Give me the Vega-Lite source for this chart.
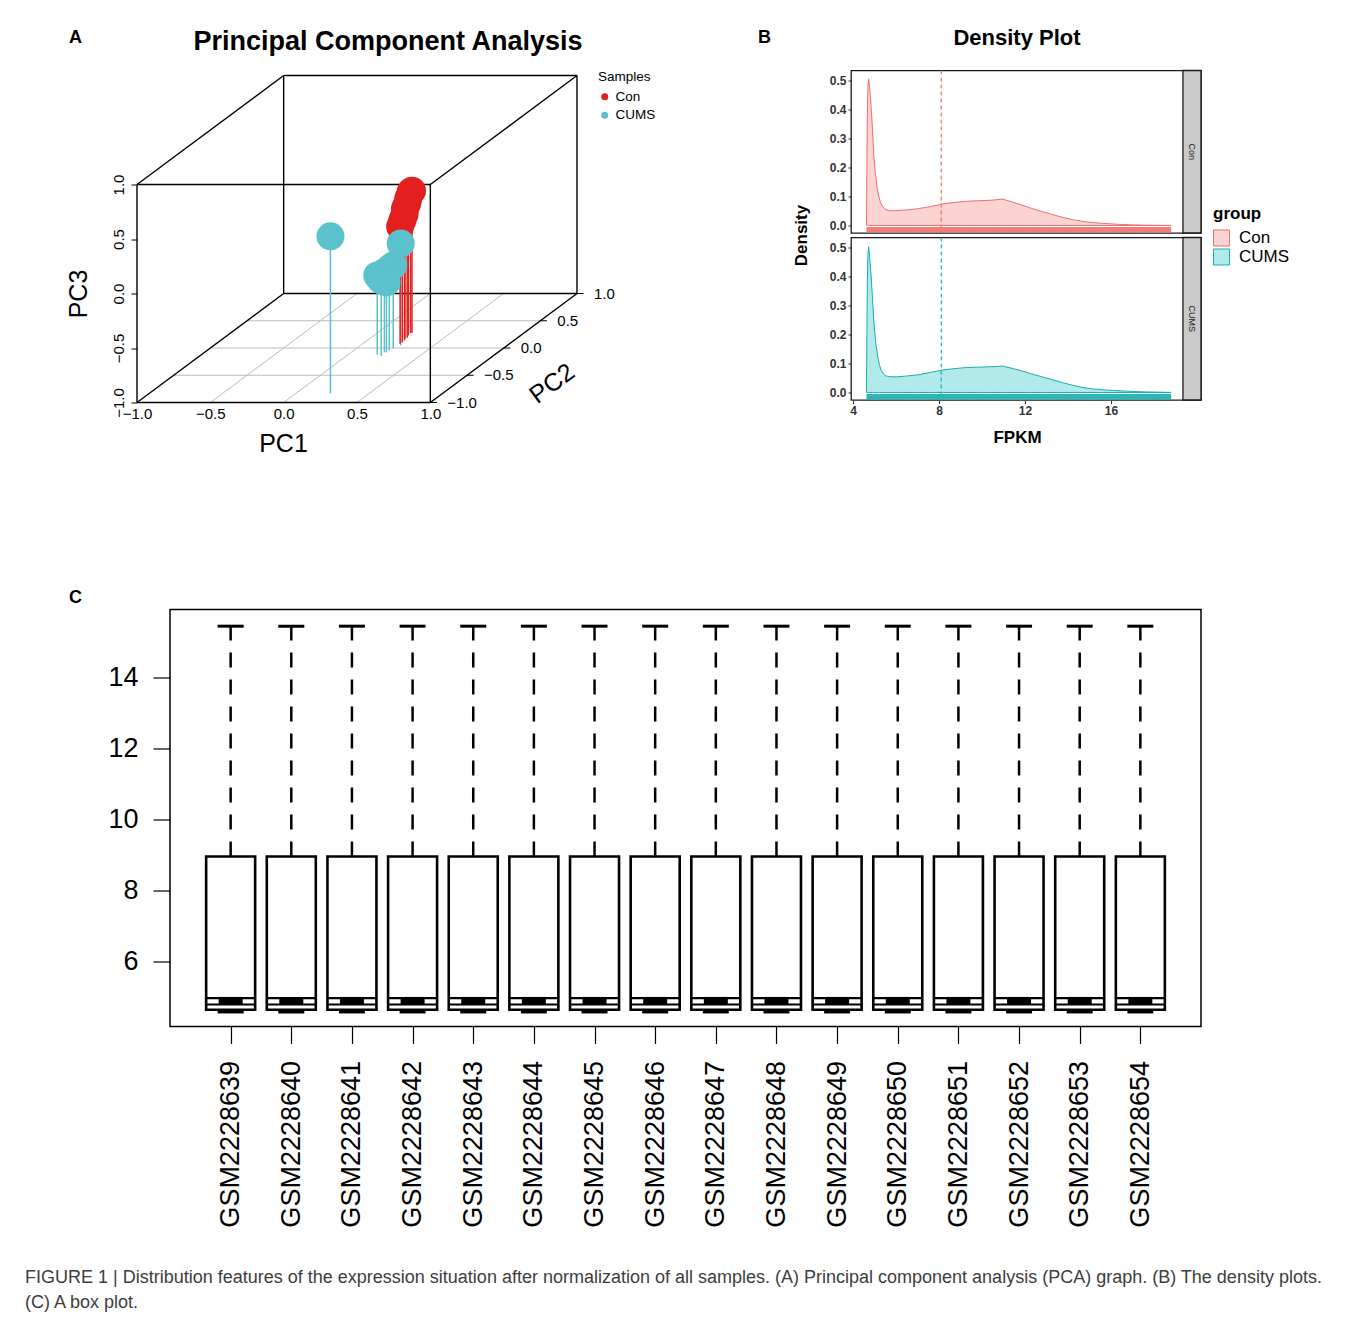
{
  "$schema": "https://vega.github.io/schema/vega-lite/v6.json",
  "padding": {"left": 25, "top": 26.5, "right": 5, "bottom": 5},
  "background": "white",
  "config": {
    "font": "Liberation Sans",
    "view": {"stroke": null},
    "axis": {"grid": false, "domain": false, "labelColor": "#000", "titleColor": "#000", "tickColor": "#000", "labelFlush": false, "labelOverlap": false, "labelBound": false},
    "title": {"color": "#000"}
  },
  "title": {
    "text": ["FIGURE 1 | Distribution features of the expression situation after normalization of all samples. (A) Principal component analysis (PCA) graph. (B) The density plots.", "(C) A box plot."],
    "orient": "bottom", "anchor": "start", "frame": "group", "dx": -112, "offset": 41,
    "fontSize": 18, "fontWeight": "normal", "color": "#3d3d3d", "lineHeight": 25
  },
  "datasets": {
    "pca": [
      {"sample": "Con1", "group": "Con", "pc1": 0.254, "pc2": 0.08, "pc3": 0.074},
      {"sample": "Con2", "group": "Con", "pc1": 0.259, "pc2": 0.10, "pc3": 0.12},
      {"sample": "Con3", "group": "Con", "pc1": 0.254, "pc2": 0.14, "pc3": 0.156},
      {"sample": "Con4", "group": "Con", "pc1": 0.242, "pc2": 0.17, "pc3": 0.193},
      {"sample": "Con5", "group": "Con", "pc1": 0.247, "pc2": 0.19, "pc3": 0.23},
      {"sample": "Con6", "group": "Con", "pc1": 0.235, "pc2": 0.23, "pc3": 0.257},
      {"sample": "Con7", "group": "Con", "pc1": 0.230, "pc2": 0.27, "pc3": 0.294},
      {"sample": "Con8", "group": "Con", "pc1": 0.235, "pc2": 0.28, "pc3": 0.303},
      {"sample": "CUMS1", "group": "CUMS", "pc1": 0.234, "pc2": -0.83, "pc3": 0.44},
      {"sample": "CUMS2", "group": "CUMS", "pc1": 0.275, "pc2": 0.046, "pc3": -0.064},
      {"sample": "CUMS3", "group": "CUMS", "pc1": 0.252, "pc2": -0.01, "pc3": -0.238},
      {"sample": "CUMS4", "group": "CUMS", "pc1": 0.243, "pc2": -0.046, "pc3": -0.248},
      {"sample": "CUMS5", "group": "CUMS", "pc1": 0.227, "pc2": -0.08, "pc3": -0.266},
      {"sample": "CUMS6", "group": "CUMS", "pc1": 0.198, "pc2": -0.12, "pc3": -0.275},
      {"sample": "CUMS7", "group": "CUMS", "pc1": 0.235, "pc2": -0.14, "pc3": -0.31},
      {"sample": "CUMS8", "group": "CUMS", "pc1": 0.241, "pc2": -0.08, "pc3": -0.358}
    ],
    "cube": [
      {"a1": -1, "b1": -1, "c1": -1, "a2": 1, "b2": -1, "c2": -1, "kind": "edge"},
      {"a1": -1, "b1": -1, "c1": 1, "a2": 1, "b2": -1, "c2": 1, "kind": "edge"},
      {"a1": -1, "b1": -1, "c1": -1, "a2": -1, "b2": -1, "c2": 1, "kind": "edge"},
      {"a1": 1, "b1": -1, "c1": -1, "a2": 1, "b2": -1, "c2": 1, "kind": "edge"},
      {"a1": -1, "b1": 1, "c1": -1, "a2": 1, "b2": 1, "c2": -1, "kind": "edge"},
      {"a1": -1, "b1": 1, "c1": 1, "a2": 1, "b2": 1, "c2": 1, "kind": "edge"},
      {"a1": -1, "b1": 1, "c1": -1, "a2": -1, "b2": 1, "c2": 1, "kind": "edge"},
      {"a1": 1, "b1": 1, "c1": -1, "a2": 1, "b2": 1, "c2": 1, "kind": "edge"},
      {"a1": -1, "b1": -1, "c1": -1, "a2": -1, "b2": 1, "c2": -1, "kind": "edge"},
      {"a1": 1, "b1": -1, "c1": -1, "a2": 1, "b2": 1, "c2": -1, "kind": "edge"},
      {"a1": -1, "b1": -1, "c1": 1, "a2": -1, "b2": 1, "c2": 1, "kind": "edge"},
      {"a1": 1, "b1": -1, "c1": 1, "a2": 1, "b2": 1, "c2": 1, "kind": "edge"},
      {"a1": -1, "b1": -0.5, "c1": -1, "a2": 1, "b2": -0.5, "c2": -1, "kind": "grid"},
      {"a1": -1, "b1": 0, "c1": -1, "a2": 1, "b2": 0, "c2": -1, "kind": "grid"},
      {"a1": -1, "b1": 0.5, "c1": -1, "a2": 1, "b2": 0.5, "c2": -1, "kind": "grid"},
      {"a1": -0.5, "b1": -1, "c1": -1, "a2": -0.5, "b2": 1, "c2": -1, "kind": "grid"},
      {"a1": 0, "b1": -1, "c1": -1, "a2": 0, "b2": 1, "c2": -1, "kind": "grid"},
      {"a1": 0.5, "b1": -1, "c1": -1, "a2": 0.5, "b2": 1, "c2": -1, "kind": "grid"}
    ],
    "pc2ticks": [{"pc2": -1}, {"pc2": -0.5}, {"pc2": 0}, {"pc2": 0.5}, {"pc2": 1}],
    "density": [
      {"group": "Con", "kind": "summary", "mean": 8.1, "lo": 4.62, "hi": 18.8},
      {"group": "CUMS", "kind": "summary", "mean": 8.1, "lo": 4.62, "hi": 18.8},
      {"group": "Con", "kind": "curve", "fpkm": 4.62, "density": 0.0},
      {"group": "Con", "kind": "curve", "fpkm": 4.64, "density": 0.2},
      {"group": "Con", "kind": "curve", "fpkm": 4.66, "density": 0.38},
      {"group": "Con", "kind": "curve", "fpkm": 4.69, "density": 0.48},
      {"group": "Con", "kind": "curve", "fpkm": 4.72, "density": 0.505},
      {"group": "Con", "kind": "curve", "fpkm": 4.76, "density": 0.48},
      {"group": "Con", "kind": "curve", "fpkm": 4.83, "density": 0.417},
      {"group": "Con", "kind": "curve", "fpkm": 4.9, "density": 0.33},
      {"group": "Con", "kind": "curve", "fpkm": 4.96, "density": 0.244},
      {"group": "Con", "kind": "curve", "fpkm": 5.04, "density": 0.175},
      {"group": "Con", "kind": "curve", "fpkm": 5.12, "density": 0.129},
      {"group": "Con", "kind": "curve", "fpkm": 5.2, "density": 0.098},
      {"group": "Con", "kind": "curve", "fpkm": 5.28, "density": 0.077},
      {"group": "Con", "kind": "curve", "fpkm": 5.4, "density": 0.062},
      {"group": "Con", "kind": "curve", "fpkm": 5.52, "density": 0.054},
      {"group": "Con", "kind": "curve", "fpkm": 5.7, "density": 0.051},
      {"group": "Con", "kind": "curve", "fpkm": 5.91, "density": 0.051},
      {"group": "Con", "kind": "curve", "fpkm": 6.5, "density": 0.053},
      {"group": "Con", "kind": "curve", "fpkm": 7.03, "density": 0.058},
      {"group": "Con", "kind": "curve", "fpkm": 7.6, "density": 0.065},
      {"group": "Con", "kind": "curve", "fpkm": 8.15, "density": 0.074},
      {"group": "Con", "kind": "curve", "fpkm": 8.7, "density": 0.079},
      {"group": "Con", "kind": "curve", "fpkm": 9.27, "density": 0.083},
      {"group": "Con", "kind": "curve", "fpkm": 9.75, "density": 0.085},
      {"group": "Con", "kind": "curve", "fpkm": 10.22, "density": 0.086},
      {"group": "Con", "kind": "curve", "fpkm": 10.6, "density": 0.088},
      {"group": "Con", "kind": "curve", "fpkm": 10.94, "density": 0.091},
      {"group": "Con", "kind": "curve", "fpkm": 11.35, "density": 0.082},
      {"group": "Con", "kind": "curve", "fpkm": 11.82, "density": 0.071},
      {"group": "Con", "kind": "curve", "fpkm": 12.3, "density": 0.059},
      {"group": "Con", "kind": "curve", "fpkm": 12.78, "density": 0.048},
      {"group": "Con", "kind": "curve", "fpkm": 13.26, "density": 0.038},
      {"group": "Con", "kind": "curve", "fpkm": 13.74, "density": 0.028},
      {"group": "Con", "kind": "curve", "fpkm": 14.2, "density": 0.02},
      {"group": "Con", "kind": "curve", "fpkm": 14.69, "density": 0.014},
      {"group": "Con", "kind": "curve", "fpkm": 15.17, "density": 0.01},
      {"group": "Con", "kind": "curve", "fpkm": 15.65, "density": 0.007},
      {"group": "Con", "kind": "curve", "fpkm": 16.13, "density": 0.005},
      {"group": "Con", "kind": "curve", "fpkm": 16.61, "density": 0.003},
      {"group": "Con", "kind": "curve", "fpkm": 17.1, "density": 0.002},
      {"group": "Con", "kind": "curve", "fpkm": 17.56, "density": 0.001},
      {"group": "Con", "kind": "curve", "fpkm": 18.1, "density": 0.0005},
      {"group": "Con", "kind": "curve", "fpkm": 18.8, "density": 0.0},
      {"group": "CUMS", "kind": "curve", "fpkm": 4.62, "density": 0.0},
      {"group": "CUMS", "kind": "curve", "fpkm": 4.64, "density": 0.2},
      {"group": "CUMS", "kind": "curve", "fpkm": 4.66, "density": 0.38},
      {"group": "CUMS", "kind": "curve", "fpkm": 4.69, "density": 0.478},
      {"group": "CUMS", "kind": "curve", "fpkm": 4.72, "density": 0.502},
      {"group": "CUMS", "kind": "curve", "fpkm": 4.76, "density": 0.475},
      {"group": "CUMS", "kind": "curve", "fpkm": 4.83, "density": 0.408},
      {"group": "CUMS", "kind": "curve", "fpkm": 4.9, "density": 0.325},
      {"group": "CUMS", "kind": "curve", "fpkm": 4.96, "density": 0.247},
      {"group": "CUMS", "kind": "curve", "fpkm": 5.05, "density": 0.172},
      {"group": "CUMS", "kind": "curve", "fpkm": 5.15, "density": 0.121},
      {"group": "CUMS", "kind": "curve", "fpkm": 5.23, "density": 0.093},
      {"group": "CUMS", "kind": "curve", "fpkm": 5.31, "density": 0.075},
      {"group": "CUMS", "kind": "curve", "fpkm": 5.42, "density": 0.063},
      {"group": "CUMS", "kind": "curve", "fpkm": 5.52, "density": 0.057},
      {"group": "CUMS", "kind": "curve", "fpkm": 5.75, "density": 0.054},
      {"group": "CUMS", "kind": "curve", "fpkm": 6.07, "density": 0.054},
      {"group": "CUMS", "kind": "curve", "fpkm": 6.55, "density": 0.057},
      {"group": "CUMS", "kind": "curve", "fpkm": 7.03, "density": 0.061},
      {"group": "CUMS", "kind": "curve", "fpkm": 7.6, "density": 0.069},
      {"group": "CUMS", "kind": "curve", "fpkm": 8.15, "density": 0.077},
      {"group": "CUMS", "kind": "curve", "fpkm": 8.7, "density": 0.082},
      {"group": "CUMS", "kind": "curve", "fpkm": 9.27, "density": 0.086},
      {"group": "CUMS", "kind": "curve", "fpkm": 9.75, "density": 0.087},
      {"group": "CUMS", "kind": "curve", "fpkm": 10.22, "density": 0.088},
      {"group": "CUMS", "kind": "curve", "fpkm": 10.6, "density": 0.089},
      {"group": "CUMS", "kind": "curve", "fpkm": 10.94, "density": 0.091},
      {"group": "CUMS", "kind": "curve", "fpkm": 11.35, "density": 0.084},
      {"group": "CUMS", "kind": "curve", "fpkm": 11.82, "density": 0.075},
      {"group": "CUMS", "kind": "curve", "fpkm": 12.3, "density": 0.064},
      {"group": "CUMS", "kind": "curve", "fpkm": 12.78, "density": 0.054},
      {"group": "CUMS", "kind": "curve", "fpkm": 13.26, "density": 0.044},
      {"group": "CUMS", "kind": "curve", "fpkm": 13.74, "density": 0.034},
      {"group": "CUMS", "kind": "curve", "fpkm": 14.2, "density": 0.025},
      {"group": "CUMS", "kind": "curve", "fpkm": 14.69, "density": 0.017},
      {"group": "CUMS", "kind": "curve", "fpkm": 15.17, "density": 0.012},
      {"group": "CUMS", "kind": "curve", "fpkm": 15.65, "density": 0.009},
      {"group": "CUMS", "kind": "curve", "fpkm": 16.13, "density": 0.007},
      {"group": "CUMS", "kind": "curve", "fpkm": 16.61, "density": 0.005},
      {"group": "CUMS", "kind": "curve", "fpkm": 17.1, "density": 0.003},
      {"group": "CUMS", "kind": "curve", "fpkm": 17.56, "density": 0.002},
      {"group": "CUMS", "kind": "curve", "fpkm": 18.1, "density": 0.001},
      {"group": "CUMS", "kind": "curve", "fpkm": 18.8, "density": 0.0}
    ],
    "box": [
      {"sample": "GSM2228639", "lo": 4.58, "q1": 4.64, "nlo": 4.79, "med": 4.89, "nhi": 4.97, "q3": 8.96, "hi": 15.45},
      {"sample": "GSM2228640", "lo": 4.58, "q1": 4.64, "nlo": 4.79, "med": 4.89, "nhi": 4.97, "q3": 8.96, "hi": 15.45},
      {"sample": "GSM2228641", "lo": 4.58, "q1": 4.64, "nlo": 4.79, "med": 4.89, "nhi": 4.97, "q3": 8.96, "hi": 15.45},
      {"sample": "GSM2228642", "lo": 4.58, "q1": 4.64, "nlo": 4.79, "med": 4.89, "nhi": 4.97, "q3": 8.96, "hi": 15.45},
      {"sample": "GSM2228643", "lo": 4.58, "q1": 4.64, "nlo": 4.79, "med": 4.89, "nhi": 4.97, "q3": 8.96, "hi": 15.45},
      {"sample": "GSM2228644", "lo": 4.58, "q1": 4.64, "nlo": 4.79, "med": 4.89, "nhi": 4.97, "q3": 8.96, "hi": 15.45},
      {"sample": "GSM2228645", "lo": 4.58, "q1": 4.64, "nlo": 4.79, "med": 4.89, "nhi": 4.97, "q3": 8.96, "hi": 15.45},
      {"sample": "GSM2228646", "lo": 4.58, "q1": 4.64, "nlo": 4.79, "med": 4.89, "nhi": 4.97, "q3": 8.96, "hi": 15.45},
      {"sample": "GSM2228647", "lo": 4.58, "q1": 4.64, "nlo": 4.79, "med": 4.89, "nhi": 4.97, "q3": 8.96, "hi": 15.45},
      {"sample": "GSM2228648", "lo": 4.58, "q1": 4.64, "nlo": 4.79, "med": 4.89, "nhi": 4.97, "q3": 8.96, "hi": 15.45},
      {"sample": "GSM2228649", "lo": 4.58, "q1": 4.64, "nlo": 4.79, "med": 4.89, "nhi": 4.97, "q3": 8.96, "hi": 15.45},
      {"sample": "GSM2228650", "lo": 4.58, "q1": 4.64, "nlo": 4.79, "med": 4.89, "nhi": 4.97, "q3": 8.96, "hi": 15.45},
      {"sample": "GSM2228651", "lo": 4.58, "q1": 4.64, "nlo": 4.79, "med": 4.89, "nhi": 4.97, "q3": 8.96, "hi": 15.45},
      {"sample": "GSM2228652", "lo": 4.58, "q1": 4.64, "nlo": 4.79, "med": 4.89, "nhi": 4.97, "q3": 8.96, "hi": 15.45},
      {"sample": "GSM2228653", "lo": 4.58, "q1": 4.64, "nlo": 4.79, "med": 4.89, "nhi": 4.97, "q3": 8.96, "hi": 15.45},
      {"sample": "GSM2228654", "lo": 4.58, "q1": 4.64, "nlo": 4.79, "med": 4.89, "nhi": 4.97, "q3": 8.96, "hi": 15.45}
    ]
  },
  "spacing": 132,
  "resolve": {"scale": {"color": "independent", "fill": "independent", "stroke": "independent"}, "legend": {"color": "independent", "fill": "independent", "stroke": "independent"}},
  "vconcat": [
    {
      "spacing": 102,
      "resolve": {"scale": {"color": "independent", "fill": "independent", "stroke": "independent"}, "legend": {"color": "independent", "fill": "independent", "stroke": "independent"}},
      "hconcat": [
        {
          "title": {"text": "A", "anchor": "start", "frame": "group", "fontSize": 18, "fontWeight": "bold", "dx": -68, "offset": -19},
          "vconcat": [
            {
              "width": 440,
              "height": 332,
              "title": {"text": "Principal Component Analysis", "fontSize": 27, "fontWeight": "bold", "dx": 31, "offset": 15, "anchor": "middle"},
              "layer": [
                {
                  "data": {"name": "cube"},
                  "transform": [
                    {"filter": "datum.kind === 'grid'"},
                    {"calculate": "datum.a1 + 0.5 * (datum.b1 + 1)", "as": "x1"},
                    {"calculate": "datum.c1 + 0.5 * (datum.b1 + 1)", "as": "y1"},
                    {"calculate": "datum.a2 + 0.5 * (datum.b2 + 1)", "as": "x2"},
                    {"calculate": "datum.c2 + 0.5 * (datum.b2 + 1)", "as": "y2"}
                  ],
                  "mark": {"type": "rule", "color": "#BDBDBD", "strokeWidth": 1},
                  "encoding": {
                    "x": {"field": "x1", "type": "quantitative", "scale": {"domain": [-1, 2], "nice": false, "zero": false},
                      "axis": {"values": [-1, -0.5, 0, 0.5, 1], "format": ".1f", "labelFontSize": 15, "ticks": false, "labelPadding": 4, "title": "PC1", "titleFontSize": 25, "titleFontWeight": "normal", "titleX": 146, "titleY": 41, "titleBaseline": "middle", "titleAlign": "center"}},
                    "y": {"field": "y1", "type": "quantitative", "scale": {"domain": [-1, 2.046], "nice": false, "zero": false},
                      "axis": {"values": [-1, -0.5, 0, 0.5, 1], "format": ".1f", "labelFontSize": 15, "labelAngle": 270, "tickSize": 6, "labelPadding": 5, "title": "PC3", "titleFontSize": 25, "titleFontWeight": "normal", "titleX": -59, "titleY": 223, "titleAngle": 270, "titleBaseline": "middle", "titleAlign": "center"}},
                    "x2": {"field": "x2"},
                    "y2": {"field": "y2"}
                  }
                },
                {
                  "data": {"name": "cube"},
                  "transform": [
                    {"filter": "datum.kind === 'edge'"},
                    {"calculate": "datum.a1 + 0.5 * (datum.b1 + 1)", "as": "x1"},
                    {"calculate": "datum.c1 + 0.5 * (datum.b1 + 1)", "as": "y1"},
                    {"calculate": "datum.a2 + 0.5 * (datum.b2 + 1)", "as": "x2"},
                    {"calculate": "datum.c2 + 0.5 * (datum.b2 + 1)", "as": "y2"}
                  ],
                  "mark": {"type": "rule", "color": "#000000", "strokeWidth": 1.4},
                  "encoding": {
                    "x": {"field": "x1", "type": "quantitative"},
                    "y": {"field": "y1", "type": "quantitative"},
                    "x2": {"field": "x2"},
                    "y2": {"field": "y2"}
                  }
                },
                {
                  "data": {"name": "pc2ticks"},
                  "transform": [
                    {"calculate": "1 + 0.5 * (datum.pc2 + 1)", "as": "x1"},
                    {"calculate": "-1 + 0.5 * (datum.pc2 + 1)", "as": "y1"},
                    {"calculate": "datum.x1 + 0.045", "as": "x2"}
                  ],
                  "mark": {"type": "rule", "color": "#000000", "strokeWidth": 1},
                  "encoding": {
                    "x": {"field": "x1", "type": "quantitative"},
                    "x2": {"field": "x2"},
                    "y": {"field": "y1", "type": "quantitative"}
                  }
                },
                {
                  "data": {"name": "pc2ticks"},
                  "transform": [
                    {"calculate": "1 + 0.5 * (datum.pc2 + 1)", "as": "x1"},
                    {"calculate": "-1 + 0.5 * (datum.pc2 + 1)", "as": "y1"}
                  ],
                  "mark": {"type": "text", "align": "left", "baseline": "middle", "dx": 17, "fontSize": 15, "color": "#000"},
                  "encoding": {
                    "x": {"field": "x1", "type": "quantitative"},
                    "y": {"field": "y1", "type": "quantitative"},
                    "text": {"field": "pc2", "type": "quantitative", "format": ".1f"}
                  }
                },
                {
                  "data": {"values": [{"axisName": "PC2"}]},
                  "mark": {"type": "text", "fontSize": 25, "angle": 323.5, "align": "center", "baseline": "middle", "color": "#000"},
                  "encoding": {
                    "x": {"datum": 1.83, "type": "quantitative"},
                    "y": {"datum": -0.826, "type": "quantitative"},
                    "text": {"field": "axisName"}
                  }
                },
                {
                  "data": {"name": "pca"},
                  "transform": [
                    {"filter": "datum.group === 'CUMS'"},
                    {"calculate": "datum.pc1 + 0.5 * (datum.pc2 + 1)", "as": "x1"},
                    {"calculate": "datum.pc3 + 0.5 * (datum.pc2 + 1)", "as": "y1"},
                    {"calculate": "-1 + 0.5 * (datum.pc2 + 1)", "as": "y2"}
                  ],
                  "mark": {"type": "rule", "color": "#5BC1CC", "strokeWidth": 1.5},
                  "encoding": {
                    "x": {"field": "x1", "type": "quantitative"},
                    "y": {"field": "y1", "type": "quantitative"},
                    "y2": {"field": "y2"}
                  }
                },
                {
                  "data": {"name": "pca"},
                  "transform": [
                    {"filter": "datum.group === 'Con'"},
                    {"calculate": "datum.pc1 + 0.5 * (datum.pc2 + 1)", "as": "x1"},
                    {"calculate": "datum.pc3 + 0.5 * (datum.pc2 + 1)", "as": "y1"},
                    {"calculate": "-1 + 0.5 * (datum.pc2 + 1)", "as": "y2"}
                  ],
                  "mark": {"type": "rule", "color": "#E41F1F", "strokeWidth": 1.5},
                  "encoding": {
                    "x": {"field": "x1", "type": "quantitative"},
                    "y": {"field": "y1", "type": "quantitative"},
                    "y2": {"field": "y2"}
                  }
                },
                {
                  "data": {"name": "pca"},
                  "transform": [
                    {"calculate": "datum.pc1 + 0.5 * (datum.pc2 + 1)", "as": "x1"},
                    {"calculate": "datum.pc3 + 0.5 * (datum.pc2 + 1)", "as": "y1"}
                  ],
                  "mark": {"type": "circle", "size": 784, "opacity": 1},
                  "encoding": {
                    "x": {"field": "x1", "type": "quantitative"},
                    "y": {"field": "y1", "type": "quantitative"},
                    "color": {"field": "group", "type": "nominal", "scale": {"domain": ["Con", "CUMS"], "range": ["#E41F1F", "#5BC1CC"]},
                      "legend": {"title": "Samples", "orient": "none", "legendX": 461, "legendY": -1, "padding": 0, "titleFontSize": 13.5, "titleFontWeight": "normal", "titleColor": "#000", "labelFontSize": 13.5, "labelColor": "#000", "symbolSize": 49, "symbolType": "circle", "symbolOpacity": 1, "titlePadding": 7, "rowPadding": 3.5, "labelOffset": 4}}
                  }
                }
              ]
            }
          ]
        },
        {
          "title": {"text": "B", "anchor": "start", "frame": "group", "fontSize": 18, "fontWeight": "bold", "dx": -93, "offset": -19.5},
          "vconcat": [
            {
              "title": {"text": "Density Plot", "fontSize": 22, "fontWeight": "bold", "anchor": "middle", "frame": "group", "dx": 166, "offset": 19},
              "data": {"name": "density"},
              "facet": {"row": {"field": "group", "type": "nominal", "sort": ["Con", "CUMS"], "title": "Density",
                "header": {"labels": false, "title": "Density", "titleFontSize": 17, "titleFontWeight": "bold", "titleColor": "#000", "titlePadding": 8}}},
              "spacing": 4,
              "bounds": "flush",
              "spec": {
                "width": 350,
                "height": 162.5,
                "view": {"stroke": "#1A1A1A", "strokeWidth": 1.3},
                "layer": [
                  {
                    "transform": [{"filter": "datum.kind === 'curve'"}],
                    "mark": {"type": "area", "strokeWidth": 1, "opacity": 1},
                    "encoding": {
                      "x": {"field": "fpkm", "type": "quantitative", "scale": {"domain": [3.9, 20.19], "nice": false, "zero": false},
                        "axis": {"values": [4, 8, 12, 16], "labelFontSize": 12, "labelFontWeight": "bold", "labelColor": "#333", "tickSize": 3, "tickColor": "#333", "labelPadding": 2, "title": "FPKM", "titleFontSize": 17, "titleFontWeight": "bold", "titlePadding": 13, "titleX": 166}},
                      "y": {"field": "density", "type": "quantitative", "stack": null, "scale": {"domain": [-0.026, 0.534], "nice": false, "zero": false},
                        "axis": {"values": [0, 0.1, 0.2, 0.3, 0.4, 0.5], "format": ".1f", "labelFontSize": 12, "labelFontWeight": "bold", "labelColor": "#333", "tickSize": 3, "tickColor": "#333", "labelPadding": 2, "title": null}},
                      "fill": {"field": "group", "type": "nominal", "scale": {"domain": ["Con", "CUMS"], "range": ["#FBD3D0", "#B2EAEB"]},
                        "legend": {"title": "group", "orient": "none", "legendX": 362, "legendY": 135, "titleFontSize": 17, "titleFontWeight": "bold", "titleColor": "#000", "labelFontSize": 17, "labelColor": "#000", "symbolType": "square", "symbolSize": 256, "symbolStrokeWidth": 1, "symbolOpacity": 1, "labelOffset": 9, "rowPadding": -3.5, "titlePadding": 7}},
                      "stroke": {"field": "group", "type": "nominal", "scale": {"domain": ["Con", "CUMS"], "range": ["#F06E6E", "#14AFB0"]},
                        "legend": {"title": "group", "orient": "none", "legendX": 362, "legendY": 135, "titleFontSize": 17, "titleFontWeight": "bold", "titleColor": "#000", "labelFontSize": 17, "labelColor": "#000", "symbolType": "square", "symbolSize": 256, "symbolStrokeWidth": 1, "symbolOpacity": 1, "labelOffset": 9, "rowPadding": -3.5, "titlePadding": 7}}
                    }
                  },
                  {
                    "transform": [{"filter": "datum.kind === 'summary'"}],
                    "mark": {"type": "rule", "strokeWidth": 5.5, "opacity": 0.9},
                    "encoding": {
                      "x": {"field": "lo", "type": "quantitative",
                        "axis": {"values": [4, 8, 12, 16], "labelFontSize": 12, "labelFontWeight": "bold", "labelColor": "#333", "tickSize": 3, "tickColor": "#333", "labelPadding": 2, "title": "FPKM", "titleFontSize": 17, "titleFontWeight": "bold", "titlePadding": 13, "titleX": 166}},
                      "x2": {"field": "hi"},
                      "y": {"datum": -0.0145, "type": "quantitative",
                        "axis": {"values": [0, 0.1, 0.2, 0.3, 0.4, 0.5], "format": ".1f", "labelFontSize": 12, "labelFontWeight": "bold", "labelColor": "#333", "tickSize": 3, "tickColor": "#333", "labelPadding": 2, "title": null}},
                      "stroke": {"field": "group", "type": "nominal"}
                    }
                  },
                  {
                    "transform": [{"filter": "datum.kind === 'summary'"}],
                    "mark": {"type": "rule", "strokeWidth": 1.2, "strokeDash": [4, 3]},
                    "encoding": {
                      "x": {"field": "mean", "type": "quantitative",
                        "axis": {"values": [4, 8, 12, 16], "labelFontSize": 12, "labelFontWeight": "bold", "labelColor": "#333", "tickSize": 3, "tickColor": "#333", "labelPadding": 2, "title": "FPKM", "titleFontSize": 17, "titleFontWeight": "bold", "titlePadding": 13, "titleX": 166}},
                      "stroke": {"field": "group", "type": "nominal"}
                    }
                  },
                  {
                    "transform": [{"filter": "datum.kind === 'summary'"}],
                    "mark": {"type": "rect", "fill": "#CACACA", "stroke": "#1A1A1A", "strokeWidth": 1.3},
                    "encoding": {
                      "x": {"datum": 19.35, "type": "quantitative",
                        "axis": {"values": [4, 8, 12, 16], "labelFontSize": 12, "labelFontWeight": "bold", "labelColor": "#333", "tickSize": 3, "tickColor": "#333", "labelPadding": 2, "title": "FPKM", "titleFontSize": 17, "titleFontWeight": "bold", "titlePadding": 13, "titleX": 166}},
                      "x2": {"datum": 20.19},
                      "y": {"datum": -0.026, "type": "quantitative",
                        "axis": {"values": [0, 0.1, 0.2, 0.3, 0.4, 0.5], "format": ".1f", "labelFontSize": 12, "labelFontWeight": "bold", "labelColor": "#333", "tickSize": 3, "tickColor": "#333", "labelPadding": 2, "title": null}},
                      "y2": {"datum": 0.534}
                    }
                  },
                  {
                    "transform": [{"filter": "datum.kind === 'summary'"}],
                    "mark": {"type": "text", "angle": 90, "fontSize": 9, "color": "#1A1A1A", "align": "center", "baseline": "middle"},
                    "encoding": {
                      "x": {"datum": 19.77, "type": "quantitative",
                        "axis": {"values": [4, 8, 12, 16], "labelFontSize": 12, "labelFontWeight": "bold", "labelColor": "#333", "tickSize": 3, "tickColor": "#333", "labelPadding": 2, "title": "FPKM", "titleFontSize": 17, "titleFontWeight": "bold", "titlePadding": 13, "titleX": 166}},
                      "y": {"datum": 0.254, "type": "quantitative",
                        "axis": {"values": [0, 0.1, 0.2, 0.3, 0.4, 0.5], "format": ".1f", "labelFontSize": 12, "labelFontWeight": "bold", "labelColor": "#333", "tickSize": 3, "tickColor": "#333", "labelPadding": 2, "title": null}},
                      "text": {"field": "group"}
                    }
                  }
                ]
              }
            }
          ]
        }
      ]
    },
    {
      "title": {"text": "C", "anchor": "start", "frame": "group", "fontSize": 18, "fontWeight": "bold", "dx": -68, "offset": 1.5},
      "bounds": "flush",
      "spacing": 32,
      "hconcat": [
        {
          "width": 1,
          "height": 1,
          "data": {"values": []},
          "mark": {"type": "point", "opacity": 0},
          "encoding": {}
        },
        {
          "width": 1031,
          "height": 417,
          "view": {"stroke": "#000", "strokeWidth": 1.5},
          "data": {"name": "box"},
          "encoding": {
            "x": {"field": "sample", "type": "nominal", "sort": null, "scale": {"type": "point", "padding": 1.062},
              "axis": {"labelAngle": 270, "labelFontSize": 27, "tickSize": 17, "tickWidth": 1.2, "labelPadding": 17, "title": null}}
          },
          "layer": [
            {
              "mark": {"type": "rule", "strokeDash": [15, 12], "strokeWidth": 2.5, "color": "#000"},
              "encoding": {
                "y": {"field": "q3", "type": "quantitative", "scale": {"domain": [4.17, 15.92], "nice": false, "zero": false},
                  "axis": {"values": [6, 8, 10, 12, 14], "labelFontSize": 27, "tickSize": 17, "tickWidth": 1.2, "labelPadding": 15, "title": null}},
                "y2": {"field": "hi"}
              }
            },
            {
              "mark": {"type": "rule", "strokeDash": [15, 12], "strokeWidth": 2.5, "color": "#000"},
              "encoding": {"y": {"field": "q1", "type": "quantitative"}, "y2": {"field": "lo"}}
            },
            {
              "mark": {"type": "bar", "size": 49, "fill": "white", "stroke": "#000", "strokeWidth": 2.6},
              "encoding": {"y": {"field": "q1", "type": "quantitative"}, "y2": {"field": "q3"}}
            },
            {
              "mark": {"type": "tick", "orient": "horizontal", "size": 49, "thickness": 2.2, "color": "#000", "opacity": 1},
              "encoding": {"y": {"field": "nhi", "type": "quantitative"}}
            },
            {
              "mark": {"type": "tick", "orient": "horizontal", "size": 49, "thickness": 2.2, "color": "#000", "opacity": 1},
              "encoding": {"y": {"field": "nlo", "type": "quantitative"}}
            },
            {
              "mark": {"type": "tick", "orient": "horizontal", "size": 24, "thickness": 8, "color": "#000", "opacity": 1},
              "encoding": {"y": {"field": "med", "type": "quantitative"}}
            },
            {
              "mark": {"type": "tick", "orient": "horizontal", "size": 26, "thickness": 3, "color": "#000", "opacity": 1},
              "encoding": {"y": {"field": "hi", "type": "quantitative"}}
            },
            {
              "mark": {"type": "tick", "orient": "horizontal", "size": 26, "thickness": 3, "color": "#000", "opacity": 1},
              "encoding": {"y": {"field": "lo", "type": "quantitative"}}
            }
          ]
        }
      ]
    }
  ]
}
